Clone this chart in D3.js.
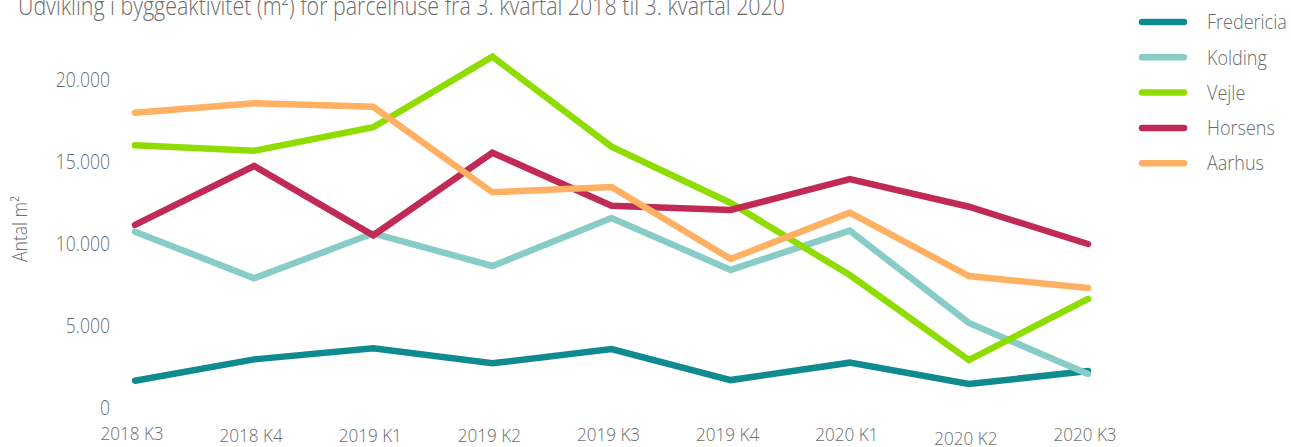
<!DOCTYPE html>
<html>
<head>
<meta charset="utf-8">
<script src="https://cdn.jsdelivr.net/npm/d3@7/dist/d3.min.js"></script>
<style>
  html, body { margin: 0; padding: 0; background: #fff; }
  svg { display: block; }
  text { font-family: "Open Sans", "Noto Sans", sans-serif; fill: #6b6b6b; }
</style>
</head>
<body>
<svg id="chart" width="1291" height="447"></svg>
<script>
const categories = ["2018 K3", "2018 K4", "2019 K1", "2019 K2", "2019 K3", "2019 K4", "2020 K1", "2020 K2", "2020 K3"];
const seriesNames = ["Fredericia", "Kolding", "Vejle", "Horsens", "Aarhus"];
const fredericia = [1680, 2980, 3650, 2740, 3610, 1720, 2780, 1480, 2270];
const kolding    = [10760, 7920, 10660, 8670, 11590, 8430, 10820, 5200, 2090];
const vejle      = [16020, 15690, 17120, 21420, 15940, 12510, 8120, 2940, 6660];
const horsens    = [11170, 14760, 10540, 15570, 12340, 12080, 13970, 12280, 10010];
const aarhus     = [18010, 18580, 18370, 13160, 13480, 9100, 11920, 8060, 7330];
const yTicks = [0, 5000, 10000, 15000, 20000];
const title = "Udvikling i byggeaktivitet (m²) for parcelhuse fra 3. kvartal 2018 til 3. kvartal 2020";

const colors = ["#0f8a8f", "#88ccc7", "#8fdc00", "#c02a55", "#ffb062"];
const seriesValues = [fredericia, kolding, vejle, horsens, aarhus];
// small baseline offsets of the x labels, as in the reference
const xLabelDy = [-2, 0, 0, 0, -1, -1, -1, 3, -1];

const svg = d3.select("#chart");
const x = d3.scalePoint().domain(categories).range([135, 1088]);
const y = d3.scaleLinear().domain([0, 20000]).range([408.3, 80]);

// condense helper (reference uses a condensed face)
function condense(sel, k) {
  sel.each(function () {
    const w = this.getComputedTextLength();
    d3.select(this).attr("textLength", w * k).attr("lengthAdjust", "spacingAndGlyphs");
  });
}

// title
svg.append("text")
  .attr("x", 18).attr("y", 15)
  .attr("font-size", 25)
  .attr("font-weight", 300)
  .attr("textLength", 767)
  .attr("lengthAdjust", "spacingAndGlyphs")
  .text(title);

// y axis labels
const fmt = v => d3.format(",")(v).replace(/,/g, ".");
svg.append("g").selectAll("text").data(yTicks).join("text")
  .attr("x", 110)
  .attr("y", d => y(d))
  .attr("dy", "0.36em")
  .attr("text-anchor", "end")
  .attr("font-size", 19.5)
  .attr("font-weight", 300)
  .text(fmt)
  .call(condense, 0.9);

// y title
svg.append("text")
  .attr("transform", "translate(27,229) rotate(-90)")
  .attr("text-anchor", "middle")
  .attr("font-size", 19.5)
  .attr("font-weight", 300)
  .text("Antal m²")
  .call(condense, 0.9);

// x labels
svg.append("g").selectAll("text").data(categories).join("text")
  .attr("x", d => x(d) - 3)
  .attr("y", (d, i) => 442 + xLabelDy[i])
  .attr("text-anchor", "middle")
  .attr("font-size", 19)
  .attr("font-weight", 300)
  .text(d => d)
  .call(condense, 0.9);

// lines
const line = d3.line().x((d, i) => x(categories[i])).y(d => y(d));
svg.append("g").selectAll("path").data(seriesValues).join("path")
  .attr("d", d => line(d))
  .attr("fill", "none")
  .attr("stroke", (d, i) => colors[i])
  .attr("stroke-width", 6.5)
  .attr("stroke-linecap", "round")
  .attr("stroke-linejoin", "miter");

// legend
const lg = svg.append("g").selectAll("g").data(seriesNames).join("g")
  .attr("transform", (d, i) => `translate(0,${22 + i * 35.3})`);
lg.append("line")
  .attr("x1", 1142).attr("x2", 1184)
  .attr("y1", 0).attr("y2", 0)
  .attr("stroke", (d, i) => colors[i])
  .attr("stroke-width", 6.5)
  .attr("stroke-linecap", "round");
lg.append("text")
  .attr("x", 1207).attr("y", 0)
  .attr("dy", "0.36em")
  .attr("font-size", 20)
  .attr("font-weight", 300)
  .text(d => d)
  .call(condense, 0.9);
</script>
</body>
</html>
